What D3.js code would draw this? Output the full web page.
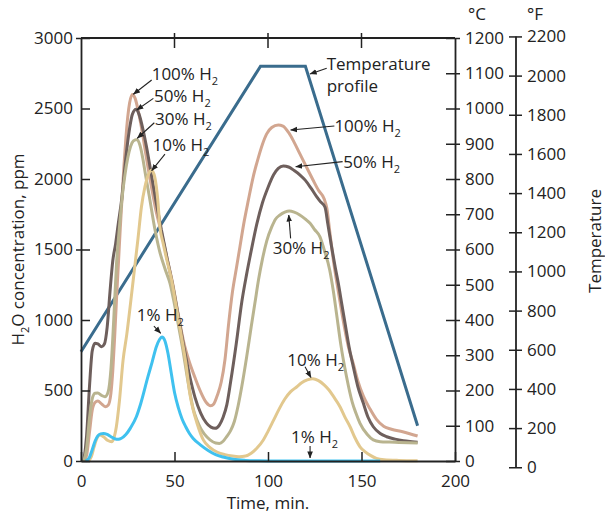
<!DOCTYPE html>
<html><head><meta charset="utf-8">
<script src="https://cdn.jsdelivr.net/npm/d3@7"></script>
<style>
body{margin:0;background:#fff;}
text{font-family:"Open Sans",sans-serif;fill:#222;}
</style></head>
<body><svg id="c" width="605" height="515"></svg>
<script>
// ---------- data (time in min, H2O in ppm) ----------
const xTicks = [0, 50, 100, 150, 200];
const yTicks = [0, 500, 1000, 1500, 2000, 2500, 3000];
const cTicks = [0,100,200,300,400,500,600,700,800,900,1000,1100,1200];
const fTicks = [0,200,400,600,800,1000,1200,1400,1600,1800,2000,2200];

const tempTime = [0, 96, 120, 180];
const tempC    = [310, 1120, 1120, 100];

const h2_100 = [[1.5,0],[3,40],[4.5,200],[6,360],[7.5,415],[9,425],[11,405],[13,385],[14.5,395],[16,480],[17,640],[18,880],[19,1150],[20,1400],[21,1650],[22,1880],[23,2100],[24,2290],[25,2440],[26,2540],[27.5,2600],[29,2570],[30.5,2490],[32,2390],[34,2230],[36,2070],[38,1920],[40,1780],[43,1620],[46,1440],[49,1260],[52,1040],[55,840],[58,700],[61,590],[64,490],[67,415],[69.3,392],[71,405],[73,470],[75,560],[77,720],[79,980],[81,1200],[83,1360],[85,1520],[87,1680],[89.5,1850],[92,2010],[94.8,2150],[97,2245],[99.3,2320],[102,2365],[105.5,2383],[108,2375],[111,2330],[114,2260],[117,2180],[120,2100],[124,1995],[127,1920],[130,1860],[131.5,1790],[133,1630],[135,1420],[137,1250],[139,1090],[141,940],[143,810],[145.6,690],[148,570],[151,460],[154.5,370],[158,295],[162,245],[166,225],[172,208],[180,177]];

const h2_50 = [[1.5,0],[3,180],[4.5,520],[6,780],[7.5,835],[9,830],[11,811],[12.5,830],[14,950],[15.5,1200],[17,1420],[18.5,1540],[20,1690],[21.8,1860],[23,2020],[24.4,2200],[26,2360],[27.5,2460],[29.5,2494],[31,2460],[33,2360],[35,2230],[37,2080],[40,1850],[43,1640],[46,1440],[49,1250],[52,1030],[55,810],[58,610],[61,450],[64,340],[67,270],[69.5,240],[71.7,232],[74,255],[76,310],[78,400],[80,560],[83,830],[86,1130],[88.5,1320],[91,1490],[94,1680],[97,1830],[100,1940],[103,2030],[105.5,2075],[108.2,2092],[111,2085],[114,2060],[117,2030],[120,1990],[123,1935],[126,1875],[128,1840],[130.5,1800],[132,1680],[134,1520],[136,1370],[137.6,1260],[139.5,1110],[141.2,977],[143.5,800],[145.6,669],[148,530],[151,409],[153.5,310],[156.3,243],[160,195],[163.5,172],[168,155],[172.4,144],[177,137],[180,133]];

const h2_30 = [[1.5,0],[3,90],[4.5,300],[6,440],[7.5,480],[9,482],[11,465],[12.8,456],[14.5,490],[16,650],[17.5,1000],[19,1400],[20.5,1650],[22,1870],[23.5,2030],[25,2150],[26.5,2230],[28,2270],[30,2281],[31.5,2240],[33,2150],[34.5,2030],[36.5,1880],[39.6,1638],[42,1490],[45,1360],[47.6,1260],[50,1110],[52,970],[54.5,787],[56.5,620],[58.3,480],[60,370],[62,290],[64,230],[66,190],[69,150],[72,128],[74,125],[76,140],[78,175],[80,215],[82,280],[84,390],[86,530],[88.6,740],[91,950],[93,1120],[95,1290],[97,1430],[99.3,1560],[102,1660],[104,1715],[106.4,1745],[109,1765],[111.4,1773],[114,1765],[117,1745],[120,1715],[122.5,1686],[125,1640],[127.8,1590],[130,1500],[133,1355],[135,1200],[136.7,1040],[139,820],[142,598],[145,420],[147,340],[149.2,267],[153,190],[156.3,150],[160,137],[165,134],[170,132],[180,128]];

const h2_10 = [[4,0],[5.5,30],[7,100],[8.5,160],[10,184],[12,172],[14.4,145],[16.4,137],[17.5,160],[18.9,243],[20.5,420],[22.5,716],[24.5,900],[26.5,1120],[28.5,1350],[30.5,1580],[32.3,1800],[34.2,1945],[36,2030],[37.8,2062],[39.5,2010],[41,1860],[42.2,1660],[44,1540],[46,1420],[48.5,1280],[51,1090],[53.5,900],[56,700],[58.3,470],[60,362],[62,270],[65.4,150],[69,95],[73,62],[77,45],[81,35],[84.5,31],[88,35],[91,55],[94,90],[97.5,149],[100,210],[103,290],[106,370],[109,440],[112,490],[115.3,525],[118,555],[121,575],[124,584],[127,570],[130,540],[132.5,505],[134.9,460],[138.5,385],[141,315],[143.9,243],[146.5,165],[149.2,101],[152,65],[155,38],[158,19],[162,9],[170,4],[180,2]];

const h2_1 = [[2.5,0],[4.5,25],[6,80],[7.5,140],[9,178],[10.5,192],[12,195],[14,188],[16,172],[18,158],[20,154],[21.6,161],[24,188],[26.5,235],[29.6,314],[32,410],[35.8,598],[38,700],[40.3,811],[42,862],[43.3,880],[44.8,855],[46.5,764],[48.3,620],[50.1,480],[52,380],[54,300],[56,243],[58,195],[60,160],[64,113],[68,75],[72,45],[76,28],[81.5,12],[88,4],[95,1],[100,0],[130,0],[160,0]];

const seriesNames  = ["100% H2", "50% H2", "30% H2", "10% H2", "1% H2"];
const seriesData   = [h2_100, h2_50, h2_30, h2_10, h2_1];
const seriesColors = ["#d2a690", "#6e5f5c", "#b9b48f", "#e2c88e", "#3fc1ef"];

// annotation positions in data units: [label, textT, textV, fromT, fromV, toT, toV]
const notes = [
  ["100%", 37.8, 2702, 37.8, 2702, 28.0, 2601],
  ["50%",  39.0, 2548, 38.7, 2572, 29.8, 2489],
  ["30%",  39.6, 2383, 39.2, 2399, 30.1, 2289],
  ["10%",  38.3, 2201, 44.9, 2177, 37.8, 2059],
  ["1%",   29.8,  995, 39.0,  957, 42.6,  906],
  ["100%", 135.5, 2335, 135.5, 2376, 112.1, 2347],
  ["50%",  140.3, 2076, 139.9, 2123, 114.8, 2087],
  ["30%",  102.5, 1468, 112.1, 1579, 111.1, 1745],
  ["10%",  110.3,  675, 119.8,  668, 123.0,  592],
  ["1%",   112.3,  128, 122.5,  106, 122.5,   21]
];
// temperature note in (min, °C)
const tempNote = {t: 131.4, c1: 1109, c2: 1047, fromT: 131.4, fromC: 1114, toT: 122.5, toC: 1098};

// ---------- scales ----------
const svg = d3.select("#c");
const x  = d3.scaleLinear().domain([0, 200]).range([81, 455]);
const y  = d3.scaleLinear().domain([0, 3000]).range([461, 38]);
const yC = d3.scaleLinear().domain([0, 1200]).range([461, 38]);
const yF = d3.scaleLinear().domain([32, 2192]).range([461, 38]);
const FS = 17;
const ink = "#222";
const fmt = d3.format("d");

svg.append("defs").append("marker")
  .attr("id","ah").attr("viewBox","0 0 8 8").attr("refX",7.5).attr("refY",4)
  .attr("markerWidth",7).attr("markerHeight",7).attr("markerUnits","userSpaceOnUse")
  .attr("orient","auto")
  .append("path").attr("d","M0,0.8 L8,4 L0,7.2 Z").attr("fill",ink);

// ---------- curves ----------
const line = d3.line().x(d => x(d[0])).y(d => y(d[1])).curve(d3.curveMonotoneX);
const tLine = d3.line().x(d => x(d[0])).y(d => yC(d[1]));
svg.append("path").datum(tempTime.map((t,i)=>[t,tempC[i]]))
  .attr("d", tLine).attr("fill","none").attr("stroke","#3a6c8d").attr("stroke-width",3)
  .attr("stroke-linejoin","miter");
seriesData.forEach((s,i) => {
  svg.append("path").datum(s).attr("d", line).attr("fill","none")
    .attr("stroke", seriesColors[i]).attr("stroke-width", 3);
});

// ---------- axes ----------
function styleAxis(g){
  g.selectAll("path.domain").attr("stroke", ink).attr("stroke-width", 1.8);
  g.selectAll(".tick line").attr("stroke", ink).attr("stroke-width", 1.5);
  g.selectAll("text").attr("font-size", FS).attr("font-family","Open Sans").attr("fill", ink);
}
const gL = svg.append("g").attr("transform","translate(81,0)")
  .call(d3.axisLeft(y).tickValues(yTicks).tickSizeInner(-9).tickSizeOuter(0).tickPadding(8).tickFormat(fmt));
styleAxis(gL);
gL.selectAll(".tick").filter(d => d % 1500 === 0).append("line")
  .attr("x1",-5).attr("x2",0).attr("stroke",ink).attr("stroke-width",1.5);

const gB = svg.append("g").attr("transform","translate(0,461)")
  .call(d3.axisBottom(x).tickValues(xTicks).tickSizeInner(-9).tickSizeOuter(0).tickPadding(14).tickFormat(fmt));
styleAxis(gB);

// top frame
svg.append("line").attr("x1",x(0)).attr("x2",x(200)).attr("y1",y(3000)).attr("y2",y(3000))
  .attr("stroke",ink).attr("stroke-width",1.8);
svg.selectAll("line.topt").data([50,100,150]).enter().append("line")
  .attr("x1",d=>x(d)).attr("x2",d=>x(d)).attr("y1",y(3000)-5).attr("y2",y(3000)+10)
  .attr("stroke",ink).attr("stroke-width",1.5);

// °C axis
const gC = svg.append("g").attr("transform",`translate(${x(200)},0)`)
  .call(d3.axisRight(yC).tickValues(cTicks).tickSizeInner(5).tickSizeOuter(0).tickPadding(5).tickFormat(fmt));
styleAxis(gC);
gC.selectAll(".tick").append("line").attr("x1",-9).attr("x2",0).attr("stroke",ink).attr("stroke-width",1.5);

// °F axis
const fx = 516;
const gF = svg.append("g").attr("transform",`translate(${fx},0)`)
  .call(d3.axisRight(yF).tickValues(fTicks).tickSizeInner(6).tickSizeOuter(0).tickPadding(5).tickFormat(fmt));
styleAxis(gF);
gF.select("path.domain").remove();
gF.append("line").attr("x1",0).attr("x2",0).attr("y1",yF(0)).attr("y2",yF(2200)).attr("stroke",ink).attr("stroke-width",1.8);
gF.selectAll(".tick").append("line").attr("x1",-7).attr("x2",0).attr("stroke",ink).attr("stroke-width",1.5);

// unit labels
svg.append("text").attr("x", x(200)+13).attr("y", 20).attr("font-size",FS).text("°C");
svg.append("text").attr("x", fx+11).attr("y", 20).attr("font-size",FS).text("°F");

// axis titles
svg.append("text").attr("x", (x(0)+x(200))/2).attr("y", 509).attr("text-anchor","middle")
  .attr("font-size",FS).text("Time, min.");
const yt = svg.append("text").attr("transform",`translate(24,${(y(0)+y(3000))/2}) rotate(-90)`)
  .attr("text-anchor","middle").attr("font-size",FS);
yt.append("tspan").text("H");
yt.append("tspan").attr("font-size",11).attr("dy",5).text("2");
yt.append("tspan").attr("dy",-5).text("O concentration, ppm");
svg.append("text").attr("transform","translate(601,241) rotate(-90)")
  .attr("text-anchor","middle").attr("font-size",FS).text("Temperature");

// ---------- annotations ----------
notes.forEach(n => {
  const t = svg.append("text").attr("x", x(n[1])).attr("y", y(n[2])).attr("font-size", FS);
  t.append("tspan").text(n[0] + " H");
  t.append("tspan").attr("font-size", 11).attr("dy", 5).text("2");
  svg.append("line").attr("x1", x(n[3])).attr("y1", y(n[4])).attr("x2", x(n[5])).attr("y2", y(n[6]))
    .attr("stroke", ink).attr("stroke-width", 1.1).attr("marker-end","url(#ah)");
});
svg.append("text").attr("x", x(tempNote.t)).attr("y", yC(tempNote.c1)).attr("font-size",FS).text("Temperature");
svg.append("text").attr("x", x(tempNote.t)).attr("y", yC(tempNote.c2)).attr("font-size",FS).text("profile");
svg.append("line").attr("x1", x(tempNote.fromT)).attr("y1", yC(tempNote.fromC))
  .attr("x2", x(tempNote.toT)).attr("y2", yC(tempNote.toC))
  .attr("stroke", ink).attr("stroke-width", 1.1).attr("marker-end","url(#ah)");
</script>
</body></html>
